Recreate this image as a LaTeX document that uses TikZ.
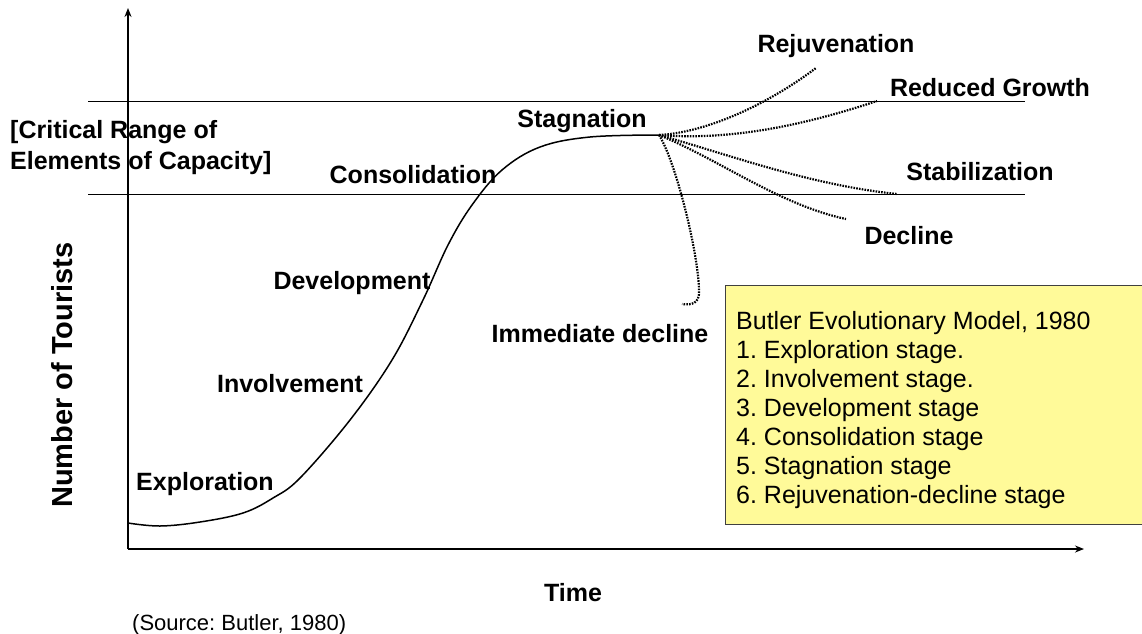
\documentclass[tikz,border=0pt]{standalone}
\usepackage{fontspec}
\setmainfont{Liberation Sans}
\usetikzlibrary{arrows.meta}
\frenchspacing
\begin{document}
\begin{tikzpicture}[x=1pt,y=-1pt,
  stage/.style={font=\fontsize{25}{29}\selectfont\bfseries, inner sep=0pt, anchor=base},
  branch/.style={line width=2.2pt, dash pattern=on 1.6pt off 1.2pt},
  axisline/.style={line width=1.6pt, -{Stealth[length=9pt,width=7pt]}},
  caprange/.style={line width=1pt},
  legendbox/.style={fill=yellow!40!white, draw=black!75, line width=1pt}
]
\useasboundingbox (0,0) rectangle (1142,633);

% capacity range limits
\draw[caprange] (88,101) -- (1025,101);
\draw[caprange] (88,194) -- (1025,194);

% axes
\coordinate (orig) at (128,549);
\coordinate (ytip) at (128,8);
\coordinate (xtip) at (1084,549);
\draw[axisline] (orig) -- (ytip);
\draw[axisline] (orig) -- (xtip);

% growth curve up to stagnation
\coordinate (start) at (128,523);
\coordinate (O) at (659,135);
\draw[line width=1.5pt] plot[smooth, tension=0.6] coordinates {
  (128,523) (160,526) (200,522) (243,513) (273,498) (300,478)
  (350,420) (392,360) (423,300) (448,245) (472,205) (502,170)
  (540,147) (590,137) (659,135)};

% possible paths after stagnation
\coordinate (rej) at (816,68);
\coordinate (red) at (877,101);
\coordinate (stab) at (897,194);
\coordinate (dec) at (846,219);
\coordinate (imm) at (682,304);
\draw[branch] (O) .. controls (700,133) and (760,110) .. (rej);
\draw[branch] (O) .. controls (720,140) and (790,130) .. (red);
\draw[branch] (O) .. controls (730,155) and (810,185) .. (stab);
\draw[branch] (O) .. controls (720,160) and (780,205) .. (dec);
\draw[branch] (O) .. controls (675,160) and (698,250) .. (699,290)
  .. controls (700,305) and (690,305) .. (imm);

% stage labels
\node[stage] (lrej) at (836,52) {Rejuvenation};
\node[stage] (lred) at (990,96) {Reduced Growth};
\node[stage] (lstag) at (582,127) {Stagnation};
\node[stage] (lstab) at (980,180) {Stabilization};
\node[stage] (ldec) at (909,244) {Decline};
\node[stage] (lcons) at (413,183) {Consolidation};
\node[stage] (ldev) at (352,289) {Development};
\node[stage] (limm) at (600,342) {Immediate decline};
\node[stage] (linv) at (290,392) {Involvement};
\node[stage] (lexp) at (205,490) {Exploration};
\node[stage, anchor=base west, align=left, font=\fontsize{25}{31}\selectfont\bfseries]
  (lcrit) at (10,169) {[Critical Range of\\Elements of Capacity]};

% axis titles
\node[font=\fontsize{29}{33}\selectfont\bfseries, rotate=90, inner sep=0pt]
  (ylab) at (62,375) {Number of Tourists};
\node[stage] (xlab) at (573,601) {Time};
\node[font=\fontsize{22}{26}\selectfont, anchor=base west, inner sep=0pt]
  (src) at (132,630) {(Source: Butler, 1980)};

% legend
\draw[legendbox] (725,285) rectangle (1160,524);
\node[font=\fontsize{25}{29}\selectfont, anchor=north west, align=left, inner sep=0pt]
  (legend) at (736,311) {Butler Evolutionary Model, 1980\\
  1. Exploration stage.\\
  2. Involvement stage.\\
  3. Development stage\\
  4. Consolidation stage\\
  5. Stagnation stage\\
  6. Rejuvenation-decline stage};
\end{tikzpicture}
\end{document}
